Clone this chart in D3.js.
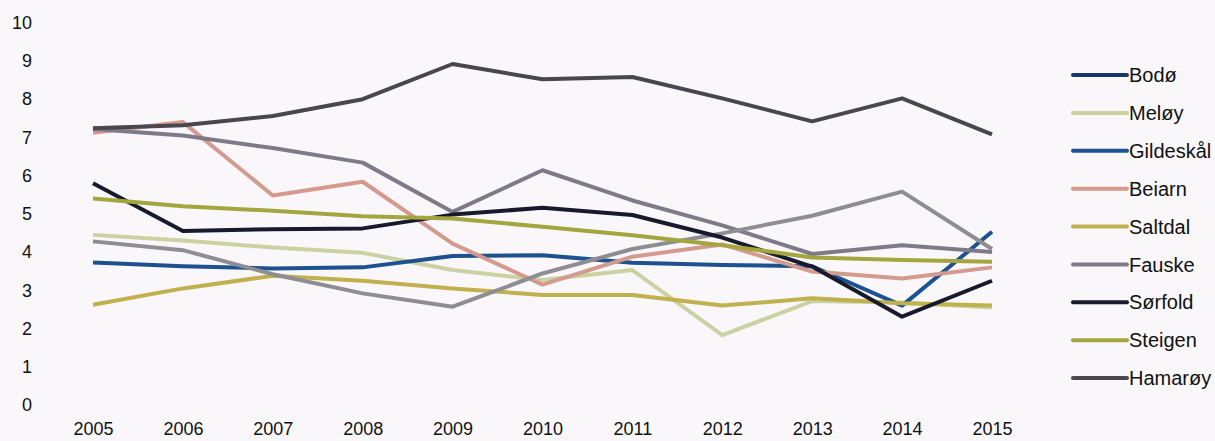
<!DOCTYPE html>
<html><head><meta charset="utf-8">
<script src="https://cdn.jsdelivr.net/npm/d3@7"></script>
<style>
html,body{margin:0;padding:0;background:#f9f7fa;}
svg{display:block;font-family:"Liberation Sans",Arial,sans-serif;}
</style></head>
<body>
<svg id="c" width="1215" height="441"></svg>
<script>
const years = [2005,2006,2007,2008,2009,2010,2011,2012,2013,2014,2015];
const yTicks = [0,1,2,3,4,5,6,7,8,9,10];

const bodo      = [];
const meloy     = [4.45,4.3,4.12,3.98,3.53,3.27,3.53,1.83,2.72,2.68,2.55];
const gildeskal = [3.73,3.63,3.57,3.6,3.9,3.92,3.72,3.66,3.63,2.6,4.53];
const beiarn    = [7.12,7.4,5.48,5.84,4.22,3.15,3.88,4.2,3.49,3.31,3.6];
const saltdal   = [2.62,3.05,3.38,3.25,3.05,2.88,2.88,2.6,2.79,2.66,2.6];
const fauske    = [7.22,7.05,6.72,6.34,5.05,6.14,5.35,4.7,3.95,4.18,4.0];
const fauske2   = [4.28,4.05,3.42,2.92,2.57,3.44,4.08,4.49,4.95,5.58,4.08];
const sorfold   = [5.8,4.55,4.6,4.62,4.98,5.16,4.97,4.38,3.62,2.31,3.25];
const steigen   = [5.4,5.2,5.08,4.94,4.88,4.66,4.44,4.18,3.86,3.79,3.75];
const hamaroy   = [7.24,7.32,7.56,8.0,8.92,8.52,8.58,8.02,7.42,8.02,7.08];

const series = [
  {name:"Bodø", values:bodo, color:"#1b3564", legend:true},
  {name:"Meløy", values:meloy, color:"#cad2a2", legend:true},
  {name:"Gildeskål", values:gildeskal, color:"#1e5190", legend:true},
  {name:"Beiarn", values:beiarn, color:"#d49a8d", legend:true},
  {name:"Saltdal", values:saltdal, color:"#c1b04e", legend:true},
  {name:"Fauske", values:fauske, color:"#7d7b87", legend:true},
  {name:"", values:fauske2, color:"#8d8d93", legend:false},
  {name:"Sørfold", values:sorfold, color:"#161a2c", legend:true},
  {name:"Steigen", values:steigen, color:"#a3a53e", legend:true},
  {name:"Hamarøy", values:hamaroy, color:"#47474d", legend:true}
];

const svg = d3.select("#c");
const x = d3.scaleLinear().domain([2005,2015]).range([93,992]);
const y = d3.scaleLinear().domain([0,10]).range([405,22.7]);

// y axis labels
const yAxis = d3.axisLeft(y).tickValues(yTicks).tickSize(0).tickPadding(0).tickFormat(d3.format("d"));
const ga = svg.append("g").attr("transform","translate(32,0)").call(yAxis);
ga.select(".domain").remove();
ga.selectAll("text").attr("font-size",18).attr("fill","#111").attr("font-family","Liberation Sans, Arial, sans-serif");

// x axis labels
const xAxis = d3.axisBottom(x).tickValues(years).tickSize(0).tickPadding(0).tickFormat(d3.format("d"));
const gx = svg.append("g").attr("transform","translate(0,422)").call(xAxis);
gx.select(".domain").remove();
gx.selectAll("text").attr("font-size",18).attr("fill","#111").attr("font-family","Liberation Sans, Arial, sans-serif");

const line = d3.line().x((d,i)=>x(years[i])).y(d=>y(d));
series.forEach(s=>{
  if(!s.values.length) return;
  svg.append("path").datum(s.values).attr("d",line)
    .attr("fill","none").attr("stroke",s.color).attr("stroke-width",4)
    .attr("stroke-linejoin","round").attr("stroke-linecap","butt");
});

// legend
const leg = series.filter(s=>s.legend);
const ly = d3.scalePoint().domain(leg.map(s=>s.name)).range([75,378]);
leg.forEach(s=>{
  const g = svg.append("g").attr("transform",`translate(0,${ly(s.name)})`);
  g.append("line").attr("x1",1073).attr("x2",1127).attr("y1",0).attr("y2",0)
    .attr("stroke",s.color).attr("stroke-width",4).attr("stroke-linecap","round");
  g.append("text").attr("x",1129).attr("y",0).attr("dy","0.36em")
    .attr("font-size",20).attr("fill","#111").text(s.name);
});
</script>
</body></html>
